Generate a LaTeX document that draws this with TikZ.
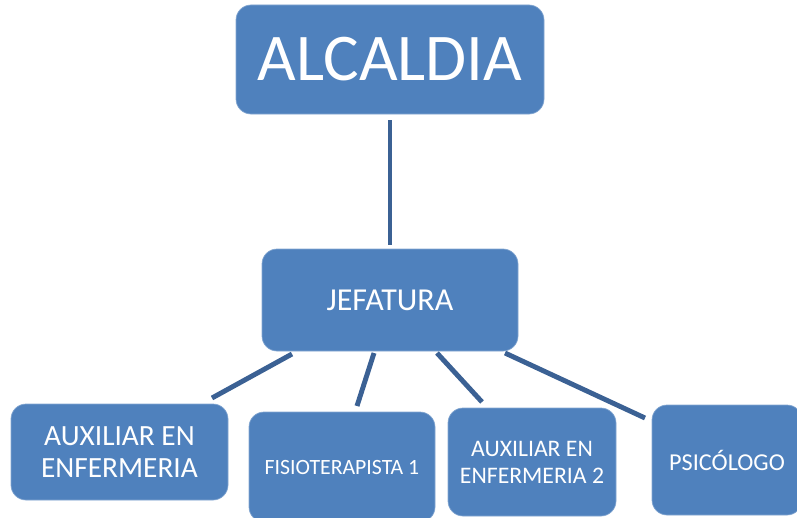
\documentclass[tikz,border=0pt]{standalone}
\usepackage{fontspec}
\setmainfont{Carlito}
\definecolor{boxblue}{HTML}{4F81BD}
\definecolor{linkblue}{HTML}{3B6194}
\tikzset{
    orgbox/.style={rectangle, rounded corners=0.3cm, fill=boxblue, draw=boxblue!70!white, line width=0.4pt, text=white, align=center, inner sep=0pt},
    link/.style={draw=linkblue, line width=2.8pt}
}

\begin{document}
\begin{tikzpicture}[x=0.02cm, y=-0.02cm]
        \useasboundingbox (0,0) rectangle (797,517);
        \clip (0,0) rectangle (797,517);

        % top levels
        \node[orgbox, minimum width=308*0.02cm, minimum height=109*0.02cm, font=\fontsize{38}{40}\selectfont] (alc) at (390,59.5) {ALCALDIA};
        \node[orgbox, minimum width=256*0.02cm, minimum height=102*0.02cm, font=\fontsize{18.2}{20}\selectfont] (jef) at (390,300) {JEFATURA};

        % bottom row
        \node[orgbox, minimum width=217*0.02cm, minimum height=96*0.02cm, font=\fontsize{16.7}{18.2}\selectfont] (aux1) at (119.5,452) {AUXILIAR EN\\ENFERMERIA};
        \node[orgbox, minimum width=186*0.02cm, minimum height=110*0.02cm, font=\fontsize{12.4}{14}\selectfont] (fis) at (342,467) {FISIOTERAPISTA 1};
        \node[orgbox, minimum width=168*0.02cm, minimum height=108*0.02cm, font=\fontsize{13.5}{15.3}\selectfont] (aux2) at (532,462) {AUXILIAR EN\\ENFERMERIA 2};
        \node[orgbox, minimum width=150*0.02cm, minimum height=110*0.02cm, font=\fontsize{13.8}{16}\selectfont] (psi) at (727,460) {PSICÓLOGO};

        % connector ends
        \coordinate (alcE) at (390,120);
        \coordinate (jefN) at (390,245);
        \coordinate (jefA) at (292,354);
        \coordinate (jefB) at (374,353);
        \coordinate (jefC) at (437,353);
        \coordinate (jefD) at (505,353);
        \coordinate (aux1N) at (212,398);
        \coordinate (fisN) at (357,406);
        \coordinate (aux2N) at (482,402);
        \coordinate (psiN) at (645,418);

        \draw[link] (alcE) -- (jefN);
        \draw[link] (jefA) -- (aux1N);
        \draw[link] (jefB) -- (fisN);
        \draw[link] (jefC) -- (aux2N);
        \draw[link] (jefD) -- (psiN);
    \end{tikzpicture}
\end{document}
